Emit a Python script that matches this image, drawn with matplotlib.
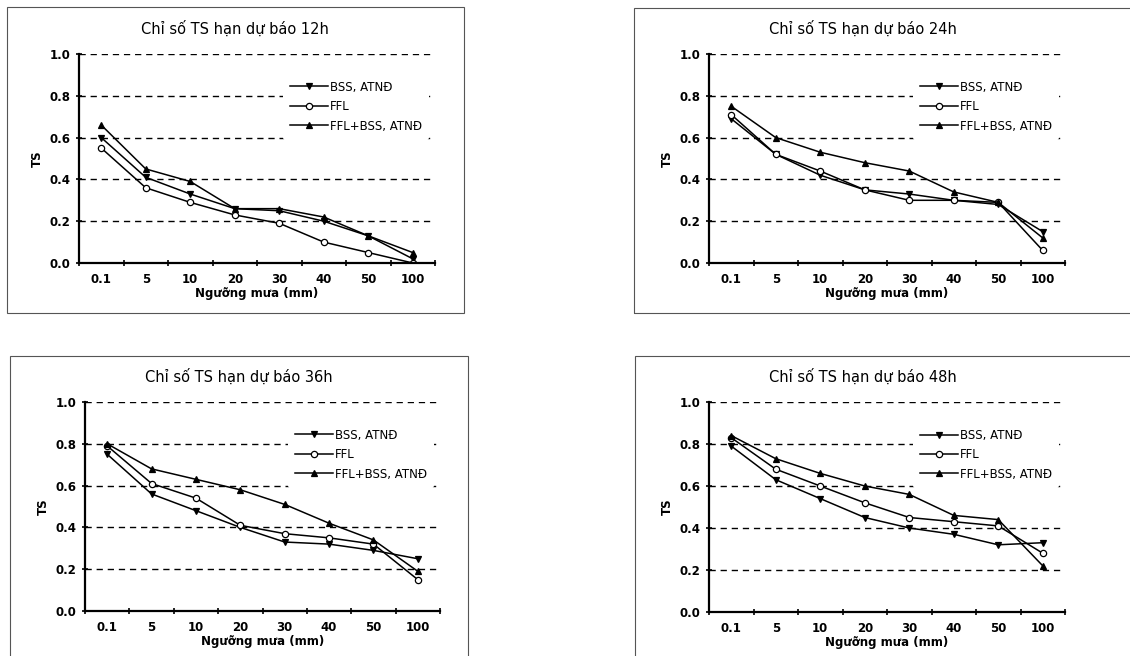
import matplotlib
matplotlib.use("Agg")
import matplotlib.pyplot as plt
from matplotlib.patches import Rectangle
import numpy as np

categories = ['0.1', '5', '10', '20', '30', '40', '50', '100']
series_names = ['BSS, ATNĐ', 'FFL', 'FFL+BSS, ATNĐ']
titles = ['Chỉ số TS hạn dự báo 12h', 'Chỉ số TS hạn dự báo 24h',
          'Chỉ số TS hạn dự báo 36h', 'Chỉ số TS hạn dự báo 48h']
xlabel = 'Ngưỡng mưa (mm)'
ylabel = 'TS'
yticks = [0.0, 0.2, 0.4, 0.6, 0.8, 1.0]

# TS values per lead time: [BSS, FFL, FFL+BSS]
ts_12h = [[0.60, 0.41, 0.33, 0.26, 0.25, 0.20, 0.13, 0.02],
          [0.55, 0.36, 0.29, 0.23, 0.19, 0.10, 0.05, 0.00],
          [0.66, 0.45, 0.39, 0.26, 0.26, 0.22, 0.13, 0.05]]
ts_24h = [[0.69, 0.52, 0.42, 0.35, 0.33, 0.30, 0.28, 0.15],
          [0.71, 0.52, 0.44, 0.35, 0.30, 0.30, 0.29, 0.06],
          [0.75, 0.60, 0.53, 0.48, 0.44, 0.34, 0.29, 0.12]]
ts_36h = [[0.75, 0.56, 0.48, 0.40, 0.33, 0.32, 0.29, 0.25],
          [0.79, 0.61, 0.54, 0.41, 0.37, 0.35, 0.32, 0.15],
          [0.80, 0.68, 0.63, 0.58, 0.51, 0.42, 0.34, 0.19]]
ts_48h = [[0.79, 0.63, 0.54, 0.45, 0.40, 0.37, 0.32, 0.33],
          [0.83, 0.68, 0.60, 0.52, 0.45, 0.43, 0.41, 0.28],
          [0.84, 0.73, 0.66, 0.60, 0.56, 0.46, 0.44, 0.22]]
all_data = [ts_12h, ts_24h, ts_36h, ts_48h]

markers = ['v', 'o', '^']
W, H = 1130, 656

# pixel layout: (box l, t, r, b), (axes l, t, r, b)
layout = [((7, 7, 464, 313), (79, 54, 435, 263)),
          ((634, 8, 1145, 313), (709, 54, 1065, 263)),
          ((10, 356, 468, 680), (85, 402, 440, 611)),
          ((635, 356, 1145, 680), (709, 402, 1065, 612))]
title_x = [235, 863, 239, 863]

fig = plt.figure(figsize=(W / 100, H / 100), dpi=100)
fig.patch.set_facecolor('white')

for k in range(4):
    (bl, bt, br, bb), (al, at, ar, ab) = layout[k]
    fig.patches.append(Rectangle((bl / W, 1 - bb / H), (br - bl) / W, (bb - bt) / H,
                                 transform=fig.transFigure, fill=False,
                                 edgecolor='#555555', linewidth=0.8))
    ax = fig.add_axes([al / W, 1 - ab / H, (ar - al) / W, (ab - at) / H])
    x = np.arange(len(categories))
    for s in range(3):
        ax.plot(x, all_data[k][s], color='black', linewidth=1.1,
                marker=markers[s], markersize=4.5,
                markerfacecolor='white' if s == 1 else 'black',
                markeredgecolor='black', markeredgewidth=0.9,
                label=series_names[s])
    ax.set_xlim(-0.5, len(categories) - 0.5)
    ax.set_ylim(0, 1.0)
    ax.set_xticks(x)
    ax.set_xticklabels(categories, fontsize=8.5, fontweight='bold')
    ax.set_xticks(np.arange(-0.5, len(categories), 1), minor=True)
    ax.tick_params(axis='x', which='major', length=0, pad=7)
    ax.tick_params(axis='x', which='minor', length=4, width=1.2, direction='inout')
    ax.set_yticks(yticks)
    ax.set_yticklabels(['%.1f' % v for v in yticks], fontsize=8.5, fontweight='bold')
    ax.tick_params(axis='y', length=4, width=1.2, direction='inout', pad=4)
    for v in yticks[1:]:
        ax.axhline(v, color='black', linestyle=(0, (4.5, 3.5)), linewidth=1.0, zorder=0)
    for sp in ['top', 'right']:
        ax.spines[sp].set_visible(False)
    ax.spines['left'].set_linewidth(1.6)
    ax.spines['bottom'].set_linewidth(1.6)
    ax.set_xlabel(xlabel, fontsize=8.5, fontweight='bold', labelpad=1)
    ax.set_ylabel(ylabel, fontsize=8.5, fontweight='bold', labelpad=4)
    leg = ax.legend(loc='upper right', bbox_to_anchor=(1.0, 0.935), fontsize=8.5,
                    frameon=True, framealpha=1.0, edgecolor='none',
                    handlelength=3.2, labelspacing=0.55, borderpad=0.6,
                    handletextpad=0.2)
    leg.get_frame().set_facecolor('white')
    fig.text(title_x[k] / W, 1 - (at - 25) / H, titles[k], ha='center', va='center',
             fontsize=10.5)

fig.savefig('out.png', dpi=100)
